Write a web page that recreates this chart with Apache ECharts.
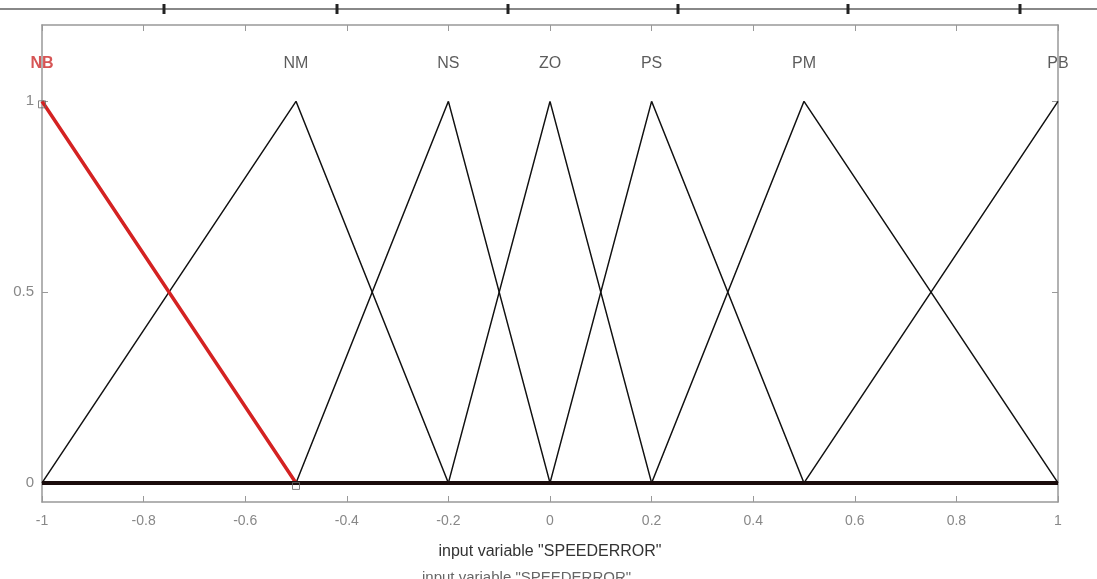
<!DOCTYPE html>
<html>
<head>
<meta charset="utf-8">
<script src="https://cdn.jsdelivr.net/npm/echarts@6/dist/echarts.min.js"></script>
<style>html,body{margin:0;padding:0;background:#fff;}#c{width:1097px;height:579px;}</style>
</head>
<body>
<div id="c"></div>
<script>
const xTicks = [-1, -0.8, -0.6, -0.4, -0.2, 0, 0.2, 0.4, 0.6, 0.8, 1];
const yTicks = [0, 0.5, 1];
const mfNames = ['NB', 'NM', 'NS', 'ZO', 'PS', 'PM', 'PB'];
const mfA = [-1.5, -1, -0.5, -0.2, 0, 0.2, 0.5];
const mfB = [-1, -0.5, -0.2, 0, 0.2, 0.5, 1];
const mfC = [-0.5, -0.2, 0, 0.2, 0.5, 1, 1.5];
const selected = 'NB';
const xName = 'input variable "SPEEDERROR"';

function tri(x, a, b, c) {
  if (x <= a || x >= c) return 0;
  return x <= b ? (x - a) / (b - a) : (c - x) / (c - b);
}
function vertices(i) {
  const a = mfA[i], b = mfB[i], c = mfC[i];
  const pts = [[-1, tri(-1, a, b, c)]];
  if (a > -1) pts.push([a, 0]);
  pts.push([b, 1]);
  if (c < 1) pts.push([c, 0]);
  pts.push([1, tri(1, a, b, c)]);
  return pts;
}

const series = [];
mfNames.forEach((n, i) => {
  if (n === selected) return;
  series.push({
    type: 'line', name: n, data: vertices(i), symbol: 'none', z: 3,
    lineStyle: { color: '#111', width: 1.5 }, silent: true
  });
});
const si = mfNames.indexOf(selected);
series.push({
  type: 'line', name: selected, data: vertices(si), symbol: 'none', z: 4,
  lineStyle: { color: '#d42222', width: 3.5 }, silent: true
});
series.push({
  type: 'line', name: 'base', data: [[-1, 0], [1, 0]], symbol: 'none', z: 5,
  lineStyle: { color: '#1a0c0c', width: 4 }, silent: true
});
series.push({
  type: 'scatter', name: 'handles', z: 6,
  data: [[mfB[si], 1], [mfC[si], 0]],
  symbol: 'rect', symbolSize: [7, 7], symbolOffset: [0, 3],
  itemStyle: { color: 'rgba(255,255,255,0)', borderColor: '#666', borderWidth: 1 },
  silent: true
});
series.push({
  type: 'scatter', name: 'labels', symbolSize: 0, z: 7,
  data: mfNames.map((n, i) => ({
    value: [mfB[i], 1.1], name: n,
    label: { color: n === selected ? '#cc2a2a' : '#333', fontWeight: n === selected ? 'bold' : 'normal' }
  })),
  label: { show: true, position: 'inside', formatter: p => p.name, fontSize: 16, fontFamily: 'Liberation Sans, Arial, sans-serif' },
  silent: true
});

const axisLineStyle = { show: true, onZero: false, lineStyle: { color: '#999', width: 1.5 } };
const chart = echarts.init(document.getElementById('c'));
chart.setOption({
  animation: false,
  backgroundColor: '#fff',
  grid: { left: 42, right: 39, top: 25, bottom: 77 },
  xAxis: [{
    type: 'value', min: -1, max: 1, interval: 0.2, position: 'bottom',
    name: xName, nameLocation: 'middle', nameGap: 42,
    nameTextStyle: { color: '#333', fontSize: 16, fontFamily: 'Liberation Sans Narrow, Liberation Sans, Arial' },
    axisLine: axisLineStyle,
    axisTick: { inside: true, length: 6, lineStyle: { color: '#999' } },
    axisLabel: { color: '#888', fontSize: 14, margin: 12, fontFamily: 'Liberation Sans, Arial' },
    splitLine: { show: false }
  }, {
    type: 'value', min: -1, max: 1, interval: 0.2, position: 'top',
    axisLine: axisLineStyle,
    axisTick: { inside: true, length: 6, lineStyle: { color: '#999' } },
    axisLabel: { show: false }, splitLine: { show: false }
  }],
  yAxis: [{
    type: 'value', min: -0.05, max: 1.2, position: 'left',
    axisLine: axisLineStyle,
    axisTick: { show: true, inside: true, length: 6, customValues: yTicks, lineStyle: { color: '#999' } },
    axisLabel: { color: '#888', fontSize: 15, margin: 8, customValues: yTicks, fontFamily: 'Liberation Sans, Arial' },
    splitLine: { show: false }
  }, {
    type: 'value', min: -0.05, max: 1.2, position: 'right',
    axisLine: axisLineStyle,
    axisTick: { show: true, inside: true, length: 6, customValues: yTicks, lineStyle: { color: '#999' } },
    axisLabel: { show: false }, splitLine: { show: false }
  }],
  graphic: [
    { type: 'line', shape: { x1: 0, y1: 9, x2: 1097, y2: 9 }, style: { stroke: '#888', lineWidth: 2 } },
    ...[164, 337, 508, 678, 848, 1020].map(x => ({
      type: 'rect', shape: { x: x - 1.5, y: 4, width: 3, height: 10 }, style: { fill: '#222' }
    })),
    { type: 'text', left: 422, top: 570, style: { text: xName, fill: '#666', font: '15px "Liberation Sans Narrow", Arial' } }
  ],
  series: series
});
</script>
</body>
</html>
